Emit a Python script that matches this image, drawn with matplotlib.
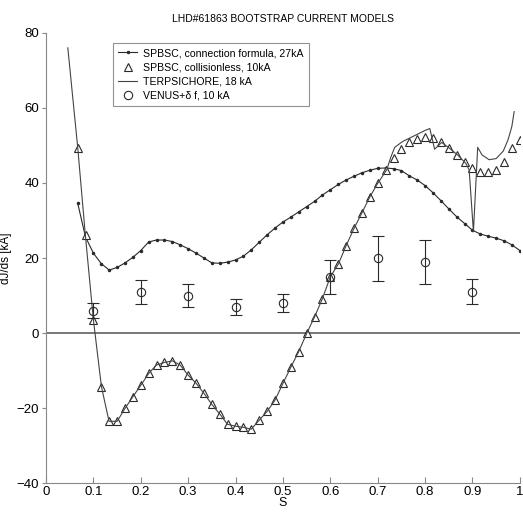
import matplotlib
matplotlib.use("Agg")
import matplotlib.pyplot as plt
import numpy as np

plt.rcParams['font.family'] = ['Liberation Sans', 'DejaVu Sans']

# SPBSC connection formula (s = k/60)
s_conn = np.arange(4, 61) / 60.0
j_conn = [34.7, 25.6, 21.3, 18.5, 16.8, 17.5, 18.7, 20.2, 22.0, 24.3,
          24.8, 24.8, 24.4, 23.5, 22.5, 21.3, 20.0, 18.7, 18.6, 18.9,
          19.5, 20.5, 22.2, 24.2, 26.2, 28.0, 29.6, 30.9, 32.3, 33.7,
          35.1, 36.8, 38.2, 39.6, 40.8, 41.8, 42.7, 43.4, 43.9, 44.0,
          43.8, 43.3, 41.9, 40.8, 39.3, 37.4, 35.3, 33.1, 31.0, 29.2,
          27.4, 26.4, 25.8, 25.3, 24.6, 23.5, 22.0]

# SPBSC collisionless (s = k/60)
s_coll = np.arange(4, 61) / 60.0
j_coll = [49.3, 26.1, 3.5, -14.3, -23.5, -23.5, -20.0, -17.0, -13.9, -10.7,
          -8.5, -7.8, -7.4, -8.5, -11.2, -13.4, -16.0, -19.0, -21.6, -24.3,
          -24.8, -25.1, -25.6, -23.2, -20.8, -17.9, -13.4, -9.0, -5.0, -0.1,
          4.4, 9.1, 15.0, 18.4, 23.2, 27.9, 32.1, 36.2, 39.9, 43.5,
          46.6, 49.0, 50.8, 51.6, 52.2, 51.9, 50.8, 49.2, 47.5, 45.7,
          43.9, 42.8, 42.8, 43.5, 45.7, 49.2, 51.5]

# TERPSICHORE
s_terp = [0.046, 0.067, 0.083, 0.1, 0.117, 0.133, 0.15, 0.167, 0.183, 0.2,
          0.217, 0.233, 0.25, 0.267, 0.283, 0.3, 0.317, 0.333, 0.35, 0.367,
          0.383, 0.4, 0.417, 0.433, 0.45, 0.467, 0.483, 0.5, 0.517, 0.533,
          0.55, 0.567, 0.583, 0.6, 0.617, 0.633, 0.65, 0.667, 0.683, 0.7,
          0.719, 0.728, 0.736, 0.752, 0.768, 0.784, 0.8, 0.81, 0.82, 0.835,
          0.852, 0.87, 0.886, 0.893, 0.902, 0.911, 0.92, 0.935, 0.95, 0.965,
          0.975, 0.983, 0.988]
j_terp = [76.0, 49.3, 26.1, 3.5, -14.3, -23.5, -23.5, -20.0, -17.0, -13.9,
          -10.7, -8.5, -7.8, -7.4, -8.5, -11.2, -13.4, -16.0, -19.0, -21.6,
          -24.3, -24.8, -25.1, -25.6, -23.2, -20.8, -17.9, -13.4, -9.0, -5.0,
          -0.1, 4.4, 9.1, 15.0, 18.4, 23.2, 27.9, 32.1, 36.2, 39.9,
          43.5, 47.0, 49.5, 51.0, 52.0, 53.0, 54.0, 54.5, 49.0, 50.8,
          49.2, 47.3, 45.2, 43.5, 27.0, 49.5, 47.5, 46.2, 46.5, 48.5,
          51.5, 55.0, 59.0]

# VENUS + delta f
s_venus = [0.1, 0.2, 0.3, 0.4, 0.5, 0.6, 0.7, 0.8, 0.9]
j_venus = [6.0, 11.0, 10.0, 7.0, 8.0, 15.0, 20.0, 19.0, 11.0]
err_venus = [2.0, 3.2, 3.0, 2.2, 2.5, 4.6, 6.0, 5.8, 3.3]

fig = plt.figure(figsize=(5.23, 5.13), dpi=100)
ax = fig.add_axes([0.088, 0.058, 0.906, 0.878])

lc = '#2a2a2a'
ax.axhline(0, color='#777777', lw=1.4, zorder=1)
ax.plot(s_conn, j_conn, '-', color=lc, lw=0.8, marker='.', ms=3,
        label='SPBSC, connection formula, 27kA')
ax.plot(s_coll, j_coll, '^', color=lc, mfc='white', mew=0.8, ms=6,
        label='SPBSC, collisionless, 10kA')
ax.plot(s_terp, j_terp, '-', color='#444444', lw=0.8,
        label='TERPSICHORE, 18 kA')
ax.errorbar(s_venus, j_venus, yerr=err_venus, fmt='none', ecolor=lc,
            elinewidth=0.8, capsize=4, capthick=0.8)
ax.plot(s_venus, j_venus, 'o', color=lc, mfc='none', mew=0.8, ms=6,
        label='VENUS+δ f, 10 kA')

ax.set_xlim(0, 1)
ax.set_ylim(-40, 80)
ax.set_xticks(np.arange(0, 1.01, 0.1))
ax.set_xticklabels(['0', '0.1', '0.2', '0.3', '0.4', '0.5', '0.6', '0.7',
                    '0.8', '0.9', '1'])
ax.set_yticks([-40, -20, 0, 20, 40, 60, 80])
ax.spines['top'].set_visible(False)
ax.spines['right'].set_visible(False)
for sp in ['left', 'bottom']:
    ax.spines[sp].set_color('#888888')
ax.tick_params(axis='x', direction='in', length=4, color='#888888',
               labelsize=9.5, pad=2)
ax.tick_params(axis='y', direction='out', length=3, color='#888888',
               labelsize=9.5, pad=2)

ax.set_title('LHD#61863 BOOTSTRAP CURRENT MODELS', fontsize=7.5, pad=8)
ax.set_xlabel('S', fontsize=9, labelpad=-1)
ax.set_ylabel('dJ/ds [kA]', fontsize=8.5)
ax.yaxis.set_label_coords(-0.072, 0.5)

leg = ax.legend(loc='upper left', bbox_to_anchor=(0.141, 0.978),
                borderaxespad=0, fontsize=7.6, fancybox=False,
                edgecolor='#777777', handlelength=1.8, labelspacing=0.4,
                borderpad=0.5, handletextpad=0.6)
leg.get_frame().set_linewidth(0.8)

fig.savefig('out.png', dpi=100)
